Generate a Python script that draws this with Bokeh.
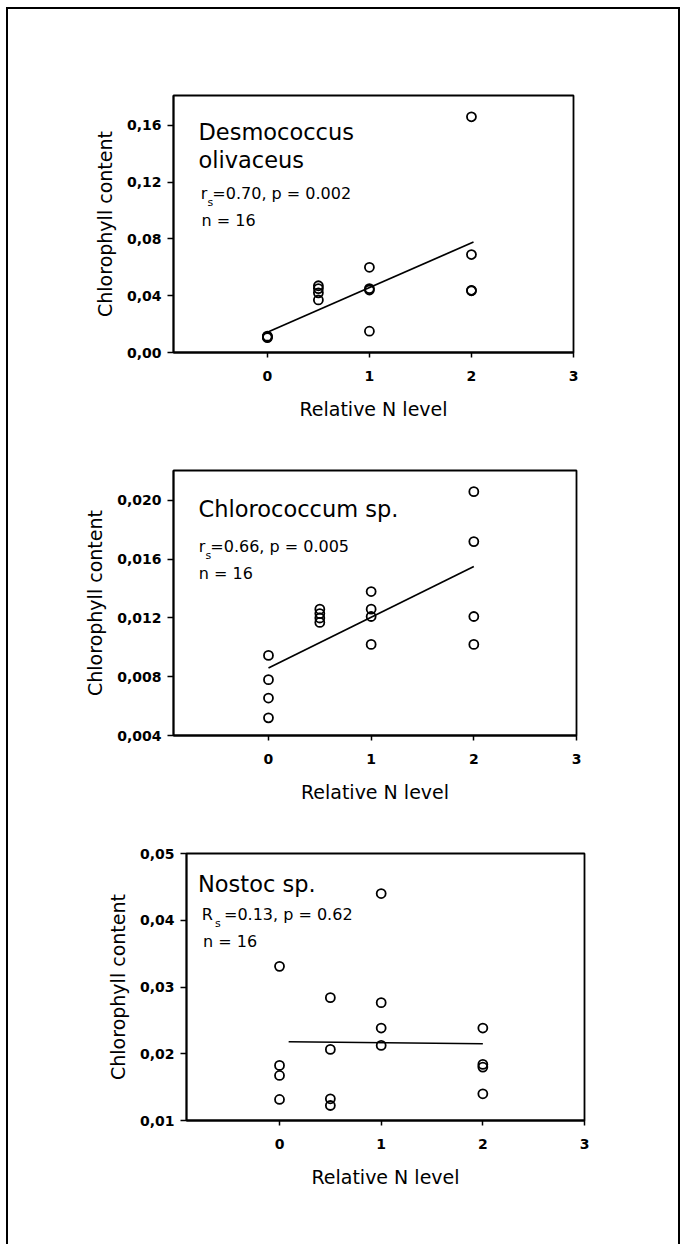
from bokeh.plotting import figure
from bokeh.layouts import column
from bokeh.models import FixedTicker, Label, ColumnDataSource, Range1d, CustomJSTickFormatter
from bokeh.embed import file_html
from bokeh.resources import INLINE

FONT = "DejaVu Sans"

# ---------------- data ----------------
x_ticks = [0, 1, 2, 3]
x_tick_labels = ["0", "1", "2", "3"]

n_level = [0, 0, 0, 0, 0.5, 0.5, 0.5, 0.5, 1, 1, 1, 1, 2, 2, 2, 2]

desmo_chl = [0.0105, 0.011, 0.011, 0.0115,
             0.047, 0.045, 0.042, 0.037,
             0.060, 0.045, 0.044, 0.015,
             0.166, 0.069, 0.0438, 0.0435]
desmo_fit_x = [0, 2.02]
desmo_fit_y = [0.0143, 0.0778]
desmo_y_ticks = [0.0, 0.04, 0.08, 0.12, 0.16]
desmo_y_labels = ["0,00", "0,04", "0,08", "0,12", "0,16"]

chloro_chl = [0.00945, 0.0078, 0.00655, 0.0052,
              0.0126, 0.0123, 0.0120, 0.0117,
              0.0138, 0.0126, 0.0121, 0.0102,
              0.0206, 0.0172, 0.0121, 0.0102]
chloro_fit_x = [0, 2.0]
chloro_fit_y = [0.0086, 0.0155]
chloro_y_ticks = [0.004, 0.008, 0.012, 0.016, 0.020]
chloro_y_labels = ["0,004", "0,008", "0,012", "0,016", "0,020"]

nostoc_chl = [0.0331, 0.01825, 0.01675, 0.01315,
              0.0284, 0.02065, 0.01325, 0.01225,
              0.0440, 0.02765, 0.02385, 0.02125,
              0.02385, 0.0184, 0.0180, 0.0140]
nostoc_fit_x = [0.09, 2.0]
nostoc_fit_y = [0.0218, 0.0215]
nostoc_y_ticks = [0.01, 0.02, 0.03, 0.04, 0.05]
nostoc_y_labels = ["0,01", "0,02", "0,03", "0,04", "0,05"]

x_title = "Relative N level"
y_title = "Chlorophyll content"

LABEL_CODE = """
let best = 0, bd = Infinity;
for (let i = 0; i < tvals.length; i++) {
  const d = Math.abs(tvals[i] - tick);
  if (d < bd) { bd = d; best = i; }
}
return tlabels[best];
"""

FIG_W = 670


def make_panel(height, xr, yr, borders, chl, fit_x, fit_y, yt, yl):
    left, right, top, bottom = borders
    p = figure(width=FIG_W, height=height,
               x_range=Range1d(*xr), y_range=Range1d(*yr),
               output_backend="svg", toolbar_location=None,
               min_border_left=left, min_border_right=right,
               min_border_top=top, min_border_bottom=bottom,
               frame_align=False)
    p.grid.visible = False
    p.background_fill_color = "white"
    p.border_fill_color = "white"
    p.outline_line_color = "black"
    p.outline_line_width = 1.8

    for ax in (p.xaxis[0], p.yaxis[0]):
        ax.axis_line_color = "black"
        ax.axis_line_width = 1.8
        ax.major_tick_line_color = "black"
        ax.major_tick_line_width = 1.5
        ax.major_tick_in = 0
        ax.minor_tick_in = 0
        ax.minor_tick_out = 0
        ax.major_label_text_font = FONT
        ax.major_label_text_font_style = "bold"
        ax.major_label_text_font_size = "14px"
        ax.major_label_text_color = "black"
        ax.axis_label_text_font = FONT
        ax.axis_label_text_font_style = "normal"
        ax.axis_label_text_font_size = "19px"
        ax.axis_label_text_color = "black"

    p.xaxis.ticker = FixedTicker(ticks=x_ticks)
    p.xaxis.formatter = CustomJSTickFormatter(args=dict(tvals=x_ticks, tlabels=x_tick_labels), code=LABEL_CODE)
    p.xaxis.major_tick_out = 5
    p.xaxis.major_label_standoff = 13
    p.xaxis.axis_label = x_title
    p.xaxis.axis_label_standoff = 14

    p.yaxis.ticker = FixedTicker(ticks=yt)
    p.yaxis.formatter = CustomJSTickFormatter(args=dict(tvals=yt, tlabels=yl), code=LABEL_CODE)
    p.yaxis.major_tick_out = 6
    p.yaxis.major_label_standoff = 6
    p.yaxis.axis_label = y_title
    p.yaxis.axis_label_standoff = 8

    src = ColumnDataSource(dict(x=n_level, y=chl))
    p.line(fit_x, fit_y, line_color="black", line_width=1.7)
    p.scatter("x", "y", source=src, marker="circle", size=9,
              fill_color=None, line_color="black", line_width=1.8)
    return p


def add_text(p, x, y, text, size, dx=0, dy=0):
    # small upward correction so the glyph baseline lands on y
    lift = 0.42 * size
    p.add_layout(Label(x=x, y=y, text=text, x_offset=dx, y_offset=dy + lift,
                       text_font=FONT, text_font_size=f"{size}px", text_color="black",
                       text_align="left", text_baseline="alphabetic"))


# Panel 1 -- Desmococcus olivaceus
p1 = make_panel(421, (-0.92, 3.0), (0.0, 0.181), (165, 105, 86, 78),
                desmo_chl, desmo_fit_x, desmo_fit_y, desmo_y_ticks, desmo_y_labels)
add_text(p1, -0.675, 0.1486, "Desmococcus", 22.5)
add_text(p1, -0.675, 0.1292, "olivaceus", 22.5)
add_text(p1, -0.652, 0.1071, "r", 16)
add_text(p1, -0.652, 0.1071, "s", 11, dx=6.6, dy=-7)
add_text(p1, -0.652, 0.1071, "=0.70, p = 0.002", 16, dx=11.5)
add_text(p1, -0.645, 0.0882, "n = 16", 16)

# Panel 2 -- Chlorococcum sp.
p2 = make_panel(380, (-0.925, 3.0), (0.004, 0.02204), (165, 102, 40, 75),
                chloro_chl, chloro_fit_x, chloro_fit_y, chloro_y_ticks, chloro_y_labels)
add_text(p2, -0.6815, 0.01875, "Chlorococcum sp.", 22.5)
add_text(p2, -0.6786, 0.01639, "r", 16)
add_text(p2, -0.6786, 0.01639, "s", 11, dx=6.6, dy=-7)
add_text(p2, -0.6786, 0.01639, "=0.66, p = 0.005", 16, dx=11.5)
add_text(p2, -0.6786, 0.01455, "n = 16", 16)

# Panel 3 -- Nostoc sp.
p3 = make_panel(434, (-0.915, 3.0), (0.01, 0.05), (178, 94, 43, 124),
                nostoc_chl, nostoc_fit_x, nostoc_fit_y, nostoc_y_ticks, nostoc_y_labels)
add_text(p3, -0.802, 0.04396, "Nostoc sp.", 22.5)
add_text(p3, -0.7655, 0.03981, "R", 16)
add_text(p3, -0.7655, 0.03981, "s", 11, dx=13.3, dy=-7)
add_text(p3, -0.7655, 0.03981, "=0.13, p = 0.62", 16, dx=22.3)
add_text(p3, -0.7527, 0.03577, "n = 16", 16)

layout = column(p1, p2, p3, spacing=0,
                styles={"margin-left": "6px", "margin-top": "7px",
                        "border-top": "2px solid black",
                        "border-left": "2px solid black",
                        "border-right": "2px solid black"})

open("out.html", "w").write(file_html(layout, INLINE))
